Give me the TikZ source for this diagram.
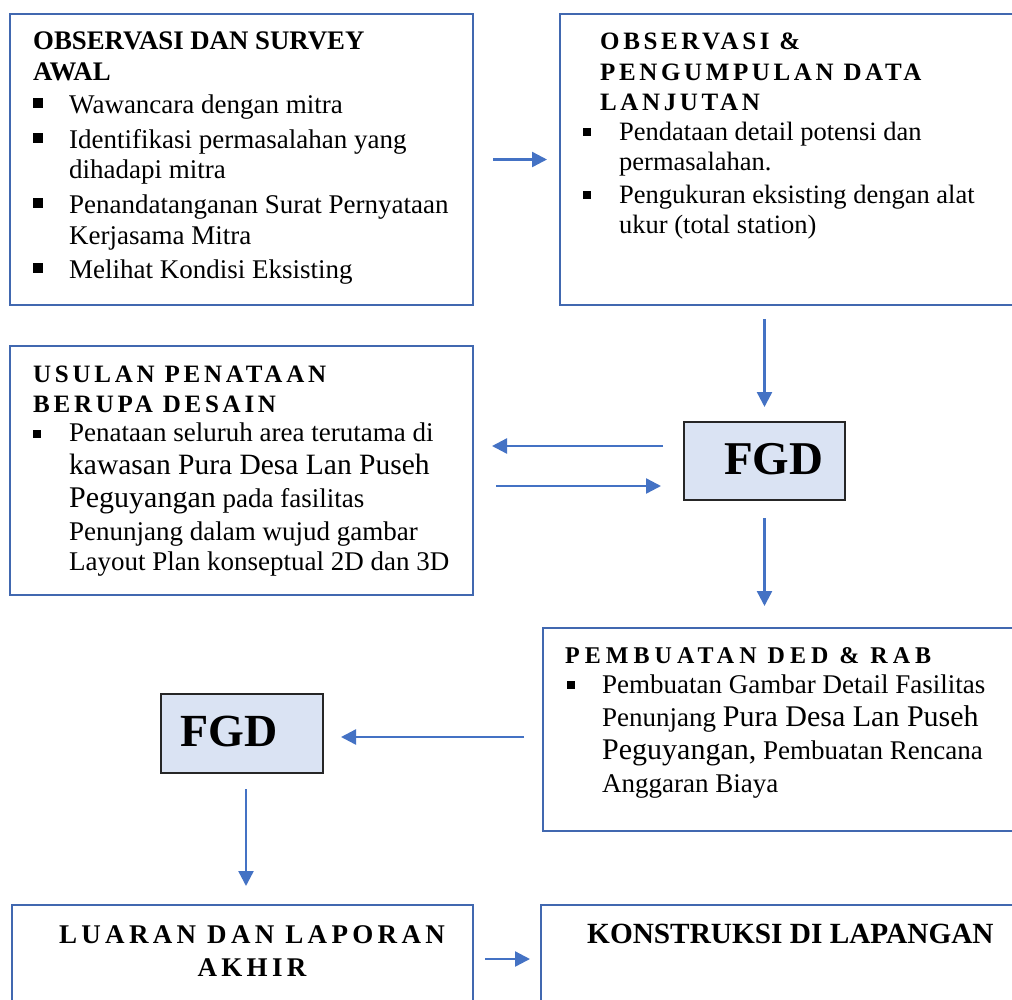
\documentclass[tikz,border=0pt]{standalone}
\usepackage{fontspec}
\setmainfont{Liberation Serif}
\newfontfamily\lsfont[LetterSpace=14.5]{Liberation Serif}
\newfontfamily\lsfontB[LetterSpace=15]{Liberation Serif}
\newfontfamily\lsfontC[LetterSpace=21]{Liberation Serif}
\newfontfamily\lsfontD[LetterSpace=16]{Liberation Serif}
\usetikzlibrary{arrows.meta}
\definecolor{boxblue}{HTML}{4168B0}
\definecolor{arrowblue}{HTML}{4472C4}
\definecolor{fgdfill}{HTML}{DAE3F3}
\newcommand{\fs}[1]{\fontsize{#1}{#1}\selectfont}
\tikzset{
  box/.style={draw=boxblue, line width=2pt, rectangle, inner sep=0pt},
  fgdbox/.style={draw=black!85, fill=fgdfill, line width=2pt, rectangle, inner sep=0pt},
  arr/.style={draw=arrowblue, line width=2.4pt, -{Triangle[length=15pt,width=15pt]}},
  txt/.style={anchor=base west, inner sep=0pt, font=\fs{27}},
  bul/.style={fill=black, inner sep=0pt, minimum width=#1, minimum height=#1, anchor=north west},
  bul/.default=9pt
}
\begin{document}
\begin{tikzpicture}[x=1pt,y=-1pt]
\useasboundingbox (0,0) rectangle (1012,999);
\clip (0,0) rectangle (1012,999);
% boxes
\node[box, minimum width=463pt, minimum height=291pt] (b1) at (241.5,159.5) {};
\node[box, minimum width=470pt, minimum height=291pt] (b2) at (795,159.5) {};
\node[box, minimum width=463pt, minimum height=249pt] (b3) at (241.5,470.5) {};
\node[fgdbox, minimum width=161pt, minimum height=78pt] (f1) at (764.5,461) {};
\node[box, minimum width=487pt, minimum height=203pt] (b4) at (786.5,729.5) {};
\node[fgdbox, minimum width=162pt, minimum height=79pt] (f2) at (242,733.5) {};
\node[box, minimum width=461pt, minimum height=115pt] (b5) at (242.5,962.5) {};
\node[box, minimum width=489pt, minimum height=115pt] (b6) at (785.5,962.5) {};

% box 1 text
\node[txt, font=\fs{26.8}\bfseries] (t1a) at (33,49) {OBSERVASI DAN SURVEY};
\node[txt, font=\fs{26.8}\bfseries] (t1b) at (33,80) {AWAL};
\node[bul=10pt] (p1a) at (33,98) {};
\node[bul=10pt] (p1b) at (33,133) {};
\node[bul=10pt] (p1c) at (33,198) {};
\node[bul=10pt] (p1d) at (33,263) {};
\node[txt] (l1a) at (69,113) {Wawancara dengan mitra};
\node[txt] (l1b) at (69,148) {Identifikasi permasalahan yang};
\node[txt] (l1c) at (69,178) {dihadapi mitra};
\node[txt] (l1d) at (69,213) {Penandatanganan Surat Pernyataan};
\node[txt] (l1e) at (69,244) {Kerjasama Mitra};
\node[txt] (l1f) at (69,278) {Melihat Kondisi Eksisting};

% box 2 text
\node[txt, font=\fs{25}\lsfont\bfseries] (t2a) at (600,49) {OBSERVASI \&};
\node[txt, font=\fs{25}\lsfont\bfseries] (t2b) at (600,80) {PENGUMPULAN DATA};
\node[txt, font=\fs{25}\lsfont\bfseries] (t2c) at (600,110) {LANJUTAN};
\node[bul=8pt] (p2a) at (583,128) {};
\node[bul=8pt] (p2b) at (583,191) {};
\node[txt, font=\fs{26.5}] (l2a) at (619,140) {Pendataan detail potensi dan};
\node[txt, font=\fs{26.5}] (l2b) at (619,170) {permasalahan.};
\node[txt, font=\fs{26.5}] (l2c) at (619,203) {Pengukuran eksisting dengan alat};
\node[txt, font=\fs{26.5}] (l2d) at (619,233) {ukur (total station)};

% box 3 text
\node[txt, font=\fs{25}\lsfontB\bfseries] (t3a) at (33,382) {USULAN PENATAAN};
\node[txt, font=\fs{25}\lsfontB\bfseries] (t3b) at (33,412) {BERUPA DESAIN};
\node[bul=8pt] (p3a) at (33,430) {};
\node[txt] (l3a) at (69,441) {Penataan seluruh area terutama di};
\node[txt, font=\fs{29.5}] (l3b) at (69,474) {kawasan Pura Desa Lan Puseh};
\node[txt] (l3c) at (69,507) {{\fs{30}Peguyangan} pada fasilitas};
\node[txt] (l3d) at (69,540) {Penunjang dalam wujud gambar};
\node[txt] (l3e) at (69,570) {Layout Plan konseptual 2D dan 3D};

% FGD 1
\node[txt, font=\fs{47}\bfseries] (t4) at (724,474) {FGD};

% box 4 text
\node[txt, font=\fs{24}\lsfontC\bfseries] (t5) at (565,663) {PEMBUATAN DED \& RAB};
\node[bul=8pt] (p5a) at (567,681) {};
\node[txt] (l5a) at (602,693) {Pembuatan Gambar Detail Fasilitas};
\node[txt] (l5b) at (602,726) {Penunjang {\fs{30}Pura Desa Lan Puseh}};
\node[txt] (l5c) at (602,759) {{\fs{30}Peguyangan,} Pembuatan Rencana};
\node[txt] (l5d) at (602,792) {Anggaran Biaya};

% FGD 2
\node[txt, font=\fs{46}\bfseries] (t6) at (180,746) {FGD};

% box 5 and 6 text
\node[anchor=base, inner sep=0pt, font=\fs{27}\lsfontD\bfseries] (t7a) at (252,943) {LUARAN DAN LAPORAN};
\node[anchor=base, inner sep=0pt, font=\fs{27}\lsfontD\bfseries] (t7b) at (252,976) {AKHIR};
\node[txt, font=\fs{29.3}\bfseries] (t8) at (587,943) {KONSTRUKSI DI LAPANGAN};

% connectors
\draw[arr, shorten <=19pt, shorten >=12pt] (b1.east) -- (b2.west);
\draw[arr, shorten <=13pt, shorten >=14pt] (f1.north |- b2.south) -- (f1.north);
\draw[arr, shorten <=20pt, shorten >=18pt] ([yshift=15pt]f1.west) -- ([yshift=15pt]f1.west -| b3.east);
\draw[arr, shorten <=22pt, shorten >=22pt] ([yshift=-25pt]f1.west -| b3.east) -- ([yshift=-25pt]f1.west);
\draw[arr, shorten <=17pt, shorten >=21pt] (f1.south) -- (f1.south |- b4.north);
\draw[arr, shorten <=18pt, shorten >=17pt] ([yshift=-3.5pt]f2.east -| b4.west) -- ([yshift=-3.5pt]f2.east);
\draw[arr, shorten <=15pt, shorten >=18pt] ([xshift=4pt]f2.south) -- ([xshift=4pt]f2.south |- b5.north);
\draw[arr, shorten <=11pt, shorten >=10pt] ([yshift=3.5pt]b5.east) -- ([yshift=3.5pt]b5.east -| b6.west);
\end{tikzpicture}
\end{document}
